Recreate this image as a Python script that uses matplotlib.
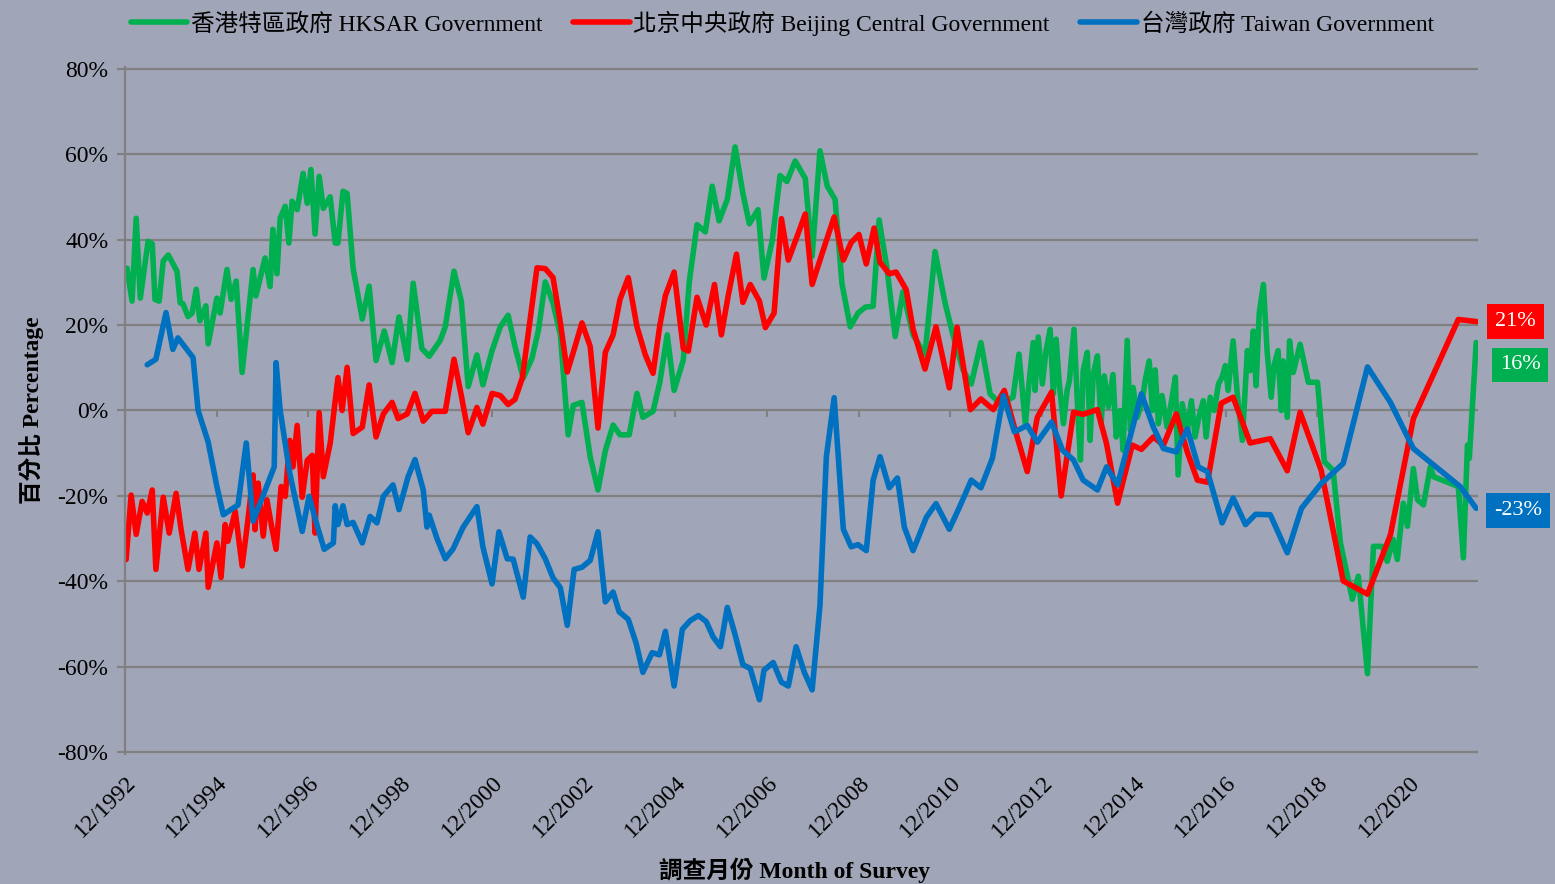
import matplotlib
matplotlib.use("Agg")
import matplotlib.pyplot as plt
import numpy as np

plt.rcParams['font.family'] = ['Liberation Serif', 'Noto Sans CJK TC']
plt.rcParams['axes.unicode_minus'] = False

# survey month as decimal year (12/1992 = 1992.917), values in %
hk_years = [1992.96, 1993.07, 1993.16, 1993.25, 1993.42, 1993.51, 1993.57, 1993.66, 1993.75, 1993.86,
            1994.05, 1994.12, 1994.18, 1994.29, 1994.38, 1994.47, 1994.55, 1994.68, 1994.73, 1994.92,
            1994.99, 1995.14, 1995.23, 1995.34, 1995.47, 1995.71, 1995.77, 1995.97, 1996.08, 1996.14,
            1996.23, 1996.30, 1996.41, 1996.49, 1996.56, 1996.67, 1996.80, 1996.89, 1996.97, 1997.06,
            1997.15, 1997.24, 1997.39, 1997.50, 1997.56, 1997.67, 1997.76, 1997.89, 1998.09, 1998.24,
            1998.39, 1998.57, 1998.74, 1998.89, 1999.07, 1999.20,
            1999.39, 1999.55, 1999.79, 1999.90, 2000.09, 2000.25, 2000.40, 2000.59, 2000.72, 2000.92,
            2001.10, 2001.27, 2001.42, 2001.60, 2001.79, 2001.93, 2002.08, 2002.25, 2002.41, 2002.58,
            2002.69, 2002.88, 2003.06, 2003.23, 2003.39, 2003.56, 2003.71, 2003.91, 2004.08, 2004.21,
            2004.43, 2004.58, 2004.74, 2004.89, 2005.09, 2005.22, 2005.39,
            2005.57, 2005.72, 2005.87, 2006.05, 2006.22, 2006.39, 2006.53, 2006.72, 2006.85, 2007.03,
            2007.20, 2007.35, 2007.53, 2007.75, 2007.90, 2008.07, 2008.23, 2008.40, 2008.55, 2008.73,
            2008.90, 2009.06, 2009.23, 2009.36, 2009.53, 2009.71, 2009.88, 2010.10, 2010.36, 2010.58,
            2010.80, 2010.97, 2011.19, 2011.37, 2011.58,
            2011.78, 2012.00, 2012.28, 2012.41, 2012.55, 2012.63, 2012.72, 2012.76, 2012.83, 2012.92,
            2013.00, 2013.09, 2013.16, 2013.22, 2013.29, 2013.38, 2013.46, 2013.51, 2013.61, 2013.70,
            2013.75, 2013.81, 2013.90, 2013.96, 2014.03, 2014.12, 2014.20, 2014.27, 2014.36, 2014.46,
            2014.53, 2014.62, 2014.68, 2014.77, 2014.84, 2014.90, 2014.99, 2015.10, 2015.16, 2015.25,
            2015.32, 2015.38, 2015.45, 2015.53, 2015.64, 2015.75, 2015.82, 2015.88, 2015.97, 2016.08,
            2016.17, 2016.25, 2016.34,
            2016.43, 2016.49, 2016.58, 2016.67, 2016.76, 2016.84, 2016.91, 2016.97, 2017.08, 2017.17,
            2017.28, 2017.39, 2017.45, 2017.52, 2017.58, 2017.65, 2017.74, 2017.82, 2017.91, 2017.98,
            2018.06, 2018.13, 2018.17, 2018.26, 2018.31, 2018.39, 2018.54, 2018.72, 2018.92, 2019.07,
            2019.26, 2019.42, 2019.68, 2019.81, 2020.01, 2020.14, 2020.33, 2020.44, 2020.57, 2020.66,
            2020.79, 2020.88, 2021.01, 2021.10, 2021.23, 2021.38, 2021.45, 2021.99, 2022.10, 2022.19,
            2022.23, 2022.38]
hk_vals = [33.3, 25.6, 45, 26.3, 39.6, 39, 26, 25.6, 35, 36.4,
           32.6, 25.2, 25, 22, 22.8, 28.4, 21, 24.5, 15.6, 26.3,
           22.8, 33, 26, 30.3, 8.9, 33, 26.8, 35.7, 29, 42.4,
           32, 45, 47.8, 39.2, 49, 47, 55.5, 48.5, 56.4, 41.3,
           54.8, 47.3, 50, 39.2, 39.2, 51.3, 50.8, 33.3, 21.4, 29.1,
           11.7, 18.6, 11.2, 21.9, 11.9, 29.8,
           14.5, 12.7, 16.4, 19.6, 32.6, 25.6, 5.6, 13, 6, 14,
           19.6, 22.3, 15, 7.6, 12.2, 18.7, 30.1, 25.1, 17.7, -5.7,
           1.2, 1.9, -10.8, -18.6, -9.4, -3.4, -5.7, -5.7, 4, -1.6,
           -0.2, 6.7, 17.7, 4.7, 11.8, 30.1, 43.5,
           41.8, 52.5, 44.4, 49.4, 61.7, 50.8, 43.7, 47, 31, 39.8,
           55, 53.6, 58.4, 54.3, 36.1, 60.8, 52.5, 49.4, 29.7, 19.6,
           22.8, 24.2, 24.4, 44.6, 33.4, 17.3, 27.8, 17.7, 13.1, 37.2,
           25.1, 17.7, 9.5, 6.2, 15.9,
           3.9, 1.6, 3.1, 13.2, -3.1, 6.6, 15.9, 4.7, 17.2, 6.2,
           14, 19, 3.9, 16.7, 6.2, -3.1, 4.7, 7, 19, -1.6,
           -11.6, 9.3, 13.6, -7, 8.5, 12.8, -3.1, 8.1, 0.8, 8.4,
           -6.2, 0, -9.3, 16.4, -4.7, 5.4, -1.6, 2.3, 7, 11.6,
           0, 9.5, -3.1, 3.5, -3.9, 3.1, 7.8, -15.1, 1.6, -4.7,
           2.3, -6.2, -1.2,
           2.3, -6.2, 3.1, 0, 6.2, 7.8, 10.5, 4.7, 16.3, 3.9,
           -7, 14, 9.3, 18.6, 5.8, 22.9, 29.5, 14, 3.1, 10.9,
           14, 0, 11.6, -1.6, 16.3, 8.9, 15.5, 6.6, 6.6, -12,
           -14, -31, -44.2, -38.8, -61.6, -31.8, -31.8, -35.3, -30.2, -34.9,
           -21.7, -27.1, -13.6, -20.9, -22.1, -13.2, -15.5, -17.8, -34.5, -8.1,
           -11.2, 15.9]

bj_years = [1992.94, 1993.05, 1993.16, 1993.29, 1993.40, 1993.51, 1993.59, 1993.75, 1993.88, 1994.03,
            1994.14, 1994.29, 1994.44, 1994.53, 1994.68, 1994.73, 1994.92, 1995.01, 1995.10, 1995.16,
            1995.32, 1995.47, 1995.58, 1995.71, 1995.75, 1995.82, 1995.93, 1996.01, 1996.12, 1996.21,
            1996.32, 1996.41, 1996.51, 1996.58, 1996.67, 1996.78, 1996.89, 1997.00, 1997.06, 1997.15,
            1997.24, 1997.39, 1997.56, 1997.65, 1997.76, 1997.89, 1998.09, 1998.24, 1998.39, 1998.55,
            1998.74, 1998.87, 1999.07, 1999.24, 1999.42, 1999.61, 1999.90, 2000.09, 2000.25, 2000.40,
            2000.59, 2000.72, 2000.92, 2001.10, 2001.27, 2001.42, 2001.58, 2001.75, 2001.90, 2002.08,
            2002.25, 2002.41, 2002.56, 2002.73, 2002.88, 2003.06, 2003.23, 2003.39, 2003.56, 2003.71,
            2003.89, 2004.08, 2004.26, 2004.43, 2004.58, 2004.70, 2004.89, 2005.09, 2005.20, 2005.39,
            2005.59, 2005.77, 2005.92, 2006.07, 2006.25, 2006.39, 2006.55, 2006.75, 2006.88, 2007.07,
            2007.23, 2007.38, 2007.57, 2007.75, 2007.90, 2008.14, 2008.38, 2008.58, 2008.75, 2008.92,
            2009.08, 2009.25, 2009.38, 2009.58, 2009.73, 2009.95, 2010.10, 2010.36, 2010.60, 2010.89,
            2011.06, 2011.35, 2011.58, 2011.85, 2012.09, 2012.33, 2012.59, 2012.81, 2013.12, 2013.33,
            2013.60, 2013.81, 2014.12, 2014.32, 2014.56, 2014.88, 2015.08, 2015.34, 2015.56, 2015.84,
            2016.08, 2016.30, 2016.52, 2016.82, 2017.08, 2017.45, 2017.89, 2018.26, 2018.54, 2019.00,
            2019.48, 2020.01, 2020.51, 2021.01, 2021.99, 2022.40]
bj_vals = [-34.9, -19.8, -29, -21.3, -24, -18.6, -37.2, -20.3, -28.7, -19.4,
           -27.9, -37.2, -28.7, -37.2, -28.7, -41.4, -31, -39.1, -26.7, -30.6,
           -23.6, -36.4, -27.1, -15.1, -27.9, -17, -29.4, -20.9, -27.5, -32.5,
           -17.8, -20.1, -7, -13.2, -3.5, -20.3, -11.7, -10.5, -28.7, -0.5,
           -15.5, -7.7, 7.7, 0, 10.1, -5.4, -3.9, 6, -6.2, -0.8,
           1.9, -1.9, -0.8, 4, -2.5, -0.2, -0.2, 12, 3.5, -5.2,
           0.7, -3.2, 4, 3.5, 1.4, 2.6, 7.6, 21.4, 33.4, 33.2,
           31.1, 20.5, 9, 15, 20.5, 15, -4.1, 13.6, 17.7, 26,
           31.1, 19.6, 13.1, 8.7, 20, 26.9, 32.4, 14.5, 13.9, 26.5,
           20, 29.5, 17.7, 26.9, 36.6, 25.3, 29.5, 25.6, 19.4, 22.8,
           44.9, 35.2, 40.7, 46, 29.5, 37.5, 45.3, 35.2, 39.3, 41.2,
           34.3, 42.7, 34.7, 32, 32.4, 28.3, 19.1, 9.7, 19.6, 5.3,
           19.5, 0.2, 2.7, 0.2, 4.7, -4.7, -14.3, -1.6, 4.3, -20,
           -0.4, -0.9, 0.2, -7.8, -21.7, -8.1, -9.1, -6.2, -8.1, -0.8,
           -9.7, -16.3, -16.8, 1.7, 3.1, -7.6, -6.6, -14.1, -0.4, -14,
           -39.9, -43, -29.1, -1.9, 21.3, 20.8]

tw_years = [1993.40, 1993.59, 1993.81, 1993.96, 1994.07, 1994.40, 1994.51, 1994.73, 1994.92, 1995.06,
            1995.38, 1995.56, 1995.71, 1996.17, 1996.21, 1996.30, 1996.51, 1996.78, 1996.93, 1997.11,
            1997.26, 1997.46, 1997.50, 1997.56, 1997.67, 1997.76, 1997.89, 1998.09, 1998.26, 1998.41,
            1998.55, 1998.76, 1998.89, 1999.09, 1999.24, 1999.42, 1999.50, 1999.55, 1999.72, 1999.90,
            2000.07, 2000.29, 2000.59, 2000.72, 2000.92, 2001.07, 2001.25, 2001.38, 2001.60, 2001.75,
            2001.90, 2002.08, 2002.25, 2002.41, 2002.56, 2002.71, 2002.88, 2003.06, 2003.23, 2003.39,
            2003.56, 2003.69, 2003.89, 2004.06, 2004.21, 2004.41, 2004.57, 2004.70, 2004.89, 2005.07,
            2005.24, 2005.42, 2005.59, 2005.74, 2005.90, 2006.05, 2006.20, 2006.39, 2006.55, 2006.75,
            2006.85, 2007.05, 2007.23, 2007.38, 2007.55, 2007.73, 2007.90, 2008.07, 2008.21, 2008.38,
            2008.58, 2008.75, 2008.90, 2009.08, 2009.23, 2009.38, 2009.58, 2009.76, 2009.91, 2010.10,
            2010.39, 2010.60, 2010.89, 2011.11, 2011.37, 2011.58, 2011.83, 2012.07, 2012.31, 2012.59,
            2012.81, 2013.12, 2013.36, 2013.60, 2013.81, 2014.12, 2014.32, 2014.56, 2015.08, 2015.34,
            2015.56, 2015.84, 2016.08, 2016.32, 2016.52, 2016.84, 2017.08, 2017.35, 2017.57, 2017.89,
            2018.26, 2018.57, 2019.00, 2019.48, 2020.01, 2020.51, 2021.01, 2022.03, 2022.38]
tw_vals = [10.7, 12, 22.9, 14.3, 17, 12.4, 0, -7.4, -17.8, -24.4,
           -22.1, -7.6, -25.9, -13.2, 11.2, 0, -14.7, -28.3, -20.1, -27.1,
           -32.5, -31, -22.3, -26.7, -22.3, -26.7, -26.2, -31, -24.8, -26.3,
           -20.1, -17.4, -23.2, -15.5, -11.5, -18.6, -27.3, -24.5, -30, -34.7,
           -32.4, -27.3, -22.5, -31.9, -40.6, -28.4, -34.7, -34.8, -43.7, -29.6,
           -31.2, -34.7, -39.2, -41.5, -50.3, -37.2, -36.7, -35.1, -28.4, -44.8,
           -42.5, -47.1, -48.9, -54.4, -61.3, -56.7, -57.2, -51.7, -64.5, -51.2,
           -49.2, -48, -49.4, -53, -55.3, -46.1, -51.7, -59.5, -60.4, -67.7,
           -60.8, -59, -63.6, -64.5, -55.3, -61.3, -65.4, -45.7, -10.8, 3,
           -27.8, -31.9, -31.4, -32.8, -16.3, -10.8, -18.1, -15.8, -27.3, -32.8,
           -25, -21.8, -27.8, -22.7, -16.3, -18.1, -11.2, 3.5, -5, -3.5,
           -7.4, -2.7, -9.3, -11.6, -16.3, -18.6, -13.2, -17.4, 3.9, -3.9,
           -8.9, -9.7, -4.3, -13.2, -14.3, -26.3, -20.5, -26.7, -24.3, -24.4,
           -33.3, -22.9, -17.1, -12.4, 10.2, 1.9, -8.9, -17.8, -22.9]

names = ['香港特區政府 HKSAR Government', '北京中央政府 Beijing Central Government', '台灣政府 Taiwan Government']
colors = ['#00B050', '#FF0000', '#0070C0']
tick_labels = ['12/%d' % y for y in range(1992, 2021, 2)]
y_ticks = [-80, -60, -40, -20, 0, 20, 40, 60, 80]

bg = '#A0A5B7'
grid_c = '#808080'

fig = plt.figure(figsize=(15.55, 8.84), dpi=100)
fig.patch.set_facecolor(bg)
ax = fig.add_axes([0.0804, 0.1471, 0.8701, 0.7771])
ax.set_facecolor(bg)

series = [(hk_years, hk_vals), (bj_years, bj_vals), (tw_years, tw_vals)]
lines = []
for (xs, ys), c, n in zip(series, colors, names):
    ln, = ax.plot(xs, ys, color=c, lw=4.0, label=n, solid_joinstyle='round', solid_capstyle='round')
    lines.append(ln)

x_ticks = [int(t[3:]) + 11 / 12 for t in tick_labels]
ax.set_xlim(x_ticks[0], 2022.42)
ax.set_ylim(-80.4, 80.4)
ax.set_xticks(x_ticks)
ax.set_xticklabels(tick_labels, rotation=45, ha='right', rotation_mode='anchor', fontsize=17)
ax.tick_params(axis='x', length=0, pad=13)
ax.set_yticks(y_ticks)
ax.set_yticklabels(['%d%%' % v for v in y_ticks], fontsize=17)
ax.tick_params(axis='y', length=6, width=1.5, color=grid_c, pad=6)

ax.yaxis.grid(True, color=grid_c, lw=1.6)
ax.set_axisbelow(True)
for s in ['top', 'right', 'bottom']:
    ax.spines[s].set_visible(False)
ax.spines['left'].set_color(grid_c)
ax.spines['left'].set_linewidth(1.6)
# small tick marks on the zero line
ax.vlines(x_ticks, -1.6, 0, colors=grid_c, lw=1.5, zorder=1)

# end labels
offsets = [(17, -16), (13, 0), (13, -1.5)]
for (xs, ys), c, off in zip(series, colors, offsets):
    ax.annotate('%.0f%%' % ys[-1], xy=(xs[-1], ys[-1]), xytext=off, textcoords='offset points',
                ha='left', va='center', color='white', fontsize=16, annotation_clip=False,
                bbox=dict(boxstyle='square,pad=0.35', fc=c, ec='none'))

fig.legend(handles=lines, loc='center', bbox_to_anchor=(0.503, 0.974), ncol=3, frameon=False,
           fontsize=17, handlelength=2.4, handletextpad=0.15, columnspacing=1.3)

fig.text(0.02, 0.536, '百分比 Percentage', rotation=90, ha='center', va='center',
         fontsize=17, fontweight='bold')
fig.text(0.511, 0.016, '調查月份 Month of Survey', ha='center', va='center',
         fontsize=17, fontweight='bold')

fig.savefig('out.png', dpi=100, facecolor=bg)
